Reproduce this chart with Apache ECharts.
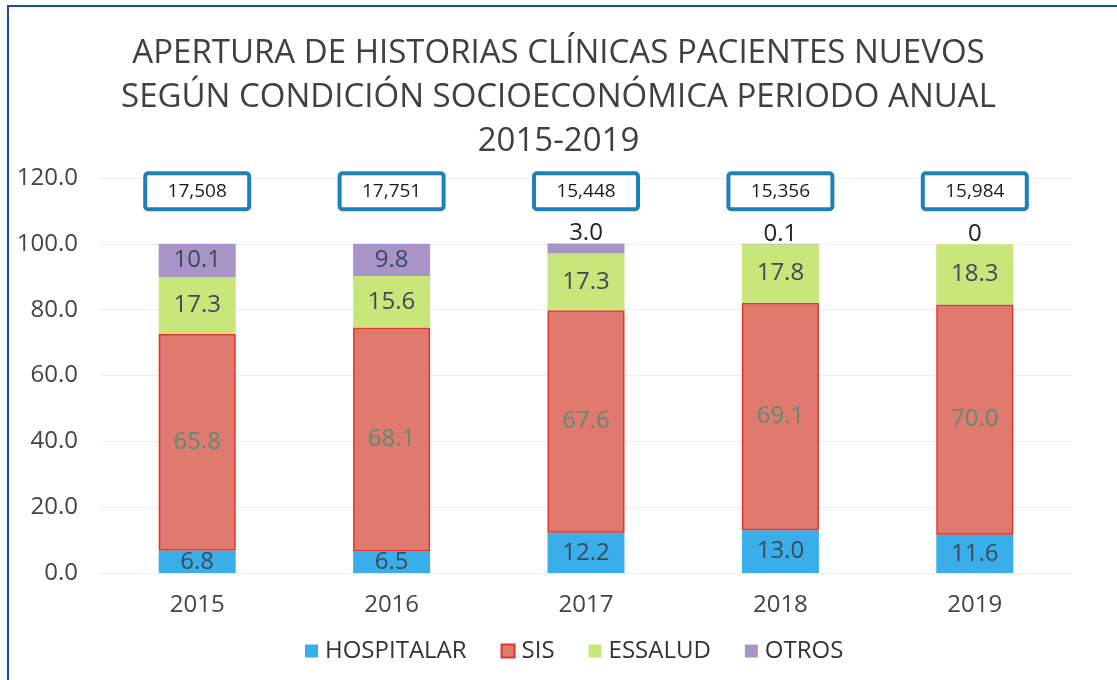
<!DOCTYPE html>
<html><head><meta charset="utf-8">
<script src="https://cdn.jsdelivr.net/npm/echarts@6/dist/echarts.min.js"></script>
<style>html,body{margin:0;padding:0;background:#fff}#c{width:1117px;height:680px}</style>
</head><body><div id="c"></div>
<script>
const years = ['2015','2016','2017','2018','2019'];
const hospitalar = [6.8, 6.5, 12.2, 13.0, 11.6];
const sis = [65.8, 68.1, 67.6, 69.1, 70.0];
const essalud = [17.3, 15.6, 17.3, 17.8, 18.3];
const otros = [10.1, 9.8, 3.0, 0.1, 0];
const totals = ['17,508', '17,751', '15,448', '15,356', '15,984'];
const yTicks = [0, 20, 40, 60, 80, 100, 120];
const titleLines = ['APERTURA DE HISTORIAS CLÍNICAS PACIENTES NUEVOS', 'SEGÚN CONDICIÓN SOCIOECONÓMICA PERIODO ANUAL', '2015-2019'];

const BOX_LEVEL = 116;
const FONT = '"Open Sans", "Noto Sans", sans-serif';
const chart = echarts.init(document.getElementById('c'));
const inLabel = {show: true, position: 'inside', color: '#3b4a5c', fontSize: 24, fontFamily: FONT, formatter: p => p.value.toFixed(1)};

function otrosData() {
  return otros.map(v => {
    if (v < 5) {
      return {value: v, label: {show: true, position: 'top', distance: -2, color: '#222', fontSize: 24, fontFamily: FONT,
        formatter: p => (p.value === 0 ? '0' : p.value.toFixed(1))}};
    }
    return {value: v};
  });
}

function renderBox(params, api) {
  const c = api.coord([api.value(0), api.value(1)]);
  const w = 104, h = 36;
  return {
    type: 'group',
    children: [
      {type: 'rect', shape: {x: c[0] - w / 2, y: c[1] - h / 2, width: w, height: h, r: 3},
        style: {fill: '#fff', stroke: '#1e80b8', lineWidth: 4}},
      {type: 'text', x: c[0], y: c[1],
        style: {text: totals[params.dataIndex], fill: '#1a1a1a', font: '500 19px ' + FONT, align: 'center', verticalAlign: 'middle'}}
    ]
  };
}

chart.setOption({
  animation: false,
  backgroundColor: '#fff',
  title: {
    text: titleLines.join('\n'), left: 'center', top: 27,
    textStyle: {fontFamily: FONT, fontSize: 33, fontWeight: 'normal', color: '#404040', lineHeight: 44}
  },
  graphic: [
    {type: 'line', shape: {x1: 7, y1: 6, x2: 1117, y2: 6}, style: {stroke: '#1d4e9e', lineWidth: 2}},
    {type: 'line', shape: {x1: 8, y1: 6, x2: 8, y2: 680}, style: {stroke: '#1d4e9e', lineWidth: 2}}
  ],
  legend: {
    bottom: 12, left: 300, itemWidth: 13, itemHeight: 13, itemGap: 34,
    icon: 'rect',
    textStyle: {fontFamily: FONT, fontSize: 24, color: '#333', padding: [0, 0, 0, 2]},
    data: ['HOSPITALAR', 'SIS', 'ESSALUD', 'OTROS']
  },
  grid: {left: 100, right: 45, top: 178, bottom: 107},
  xAxis: {
    type: 'category', data: years,
    axisLine: {show: false}, axisTick: {show: false},
    axisLabel: {fontFamily: FONT, fontSize: 24, color: '#444', margin: 20}
  },
  yAxis: {
    type: 'value', min: yTicks[0], max: yTicks[yTicks.length - 1], interval: 20,
    axisLine: {show: false}, axisTick: {show: false},
    axisLabel: {fontFamily: FONT, fontSize: 24, color: '#444', margin: 22, formatter: v => v.toFixed(1)},
    splitLine: {lineStyle: {color: '#ececec'}}
  },
  series: [
    {name: 'HOSPITALAR', type: 'bar', stack: 't', barWidth: 77, data: hospitalar,
      itemStyle: {color: '#3aaee8'}, label: inLabel},
    {name: 'SIS', type: 'bar', stack: 't', data: sis,
      itemStyle: {color: '#e07a6e', borderColor: '#e0342c', borderWidth: 1.5},
      label: Object.assign({}, inLabel, {color: '#5b8c73'})},
    {name: 'ESSALUD', type: 'bar', stack: 't', data: essalud,
      itemStyle: {color: '#c9e67a'}, label: inLabel},
    {name: 'OTROS', type: 'bar', stack: 't', data: otrosData(),
      itemStyle: {color: '#a994c8'}, label: inLabel},
    {name: 'totals', type: 'custom', renderItem: renderBox, silent: true, z: 10,
      data: years.map((y, i) => [i, BOX_LEVEL])}
  ]
});
</script></body></html>
